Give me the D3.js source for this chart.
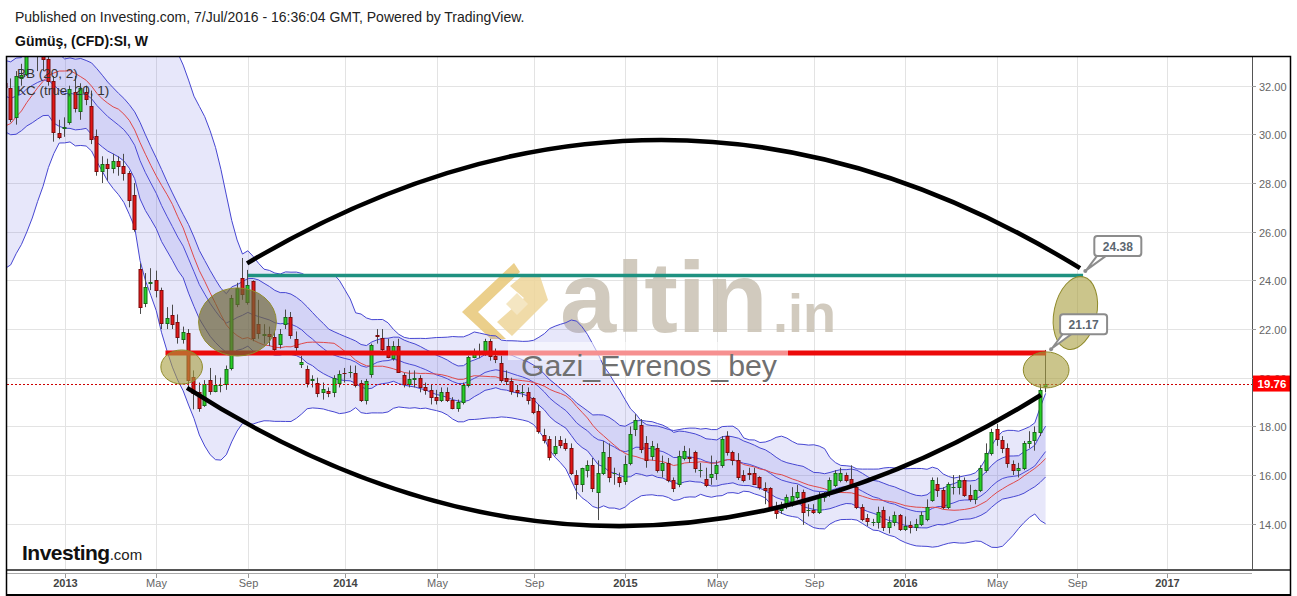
<!DOCTYPE html>
<html><head><meta charset="utf-8">
<script src="https://cdn.jsdelivr.net/npm/d3@7/dist/d3.min.js"></script>
<style>
 html,body{margin:0;padding:0;background:#fff}
 svg{display:block}
 text{font-family:"Liberation Sans",Arial,Helvetica,sans-serif}
</style></head><body>
<svg id="chart" width="1297" height="596"></svg>
<script>
// ---------------- DATA ----------------
const firstWeek = "2012-03-04"; // weekly bars (week start, Sunday)
const open = [34.5,34.1,32.9,32.3,32.5,31.8,31.6,31.7,31.2,30.5,
28.9,28.6,28.3,28.5,28.4,28.7,26.9,27.6,27.0,27.3,
27.2,27.9,27.6,27.8,28.3,30.3,31.5,33.5,34.6,34.3,
34.6,34.5,33.3,32.1,31.9,30.7,32.3,32.5,34.0,33.3,
33.3,33.1,32.2,30.05,30.28,30.5,31.75,30.95,31.75,31.15,
29.95,28.5,28.8,28.6,28.9,28.7,28.4,27.5,24.47,23.07,
23.9,24.0,23.6,22.25,22.57,22.29,21.59,21.84,20.03,19.41,
18.88,19.9,19.45,19.7,19.74,20.4,23.03,24.1,23.11,23.97,
22.2,21.76,21.8,21.67,21.4,22.2,22.5,21.6,20.55,20.36,
19.9,19.8,19.4,19.45,19.4,19.78,20.2,20.25,20.2,19.77,
19.08,20.15,21.75,21.65,21.3,20.8,21.3,20.1,19.74,19.95,
20.0,19.6,19.5,19.2,19.1,19.4,19.1,18.75,19.0,19.7,
20.85,21.05,21.1,21.5,20.9,20.6,20.0,19.85,19.5,19.42,
19.4,19.15,18.65,17.65,17.5,16.9,17.45,17.3,17.1,16.0,
15.65,16.2,16.4,15.3,16.1,16.75,16.1,15.9,15.75,16.5,
17.9,18.05,17.3,16.8,17.1,16.2,16.5,15.8,15.65,16.7,
16.75,16.95,16.2,15.85,15.9,16.1,16.4,17.6,16.95,16.6,
16.0,16.1,16.1,15.9,15.45,15.45,14.7,14.55,14.85,14.85,
15.1,15.3,14.55,14.55,14.5,15.1,15.25,15.6,15.8,16.0,
15.85,15.5,14.7,14.25,14.05,14.05,14.55,13.85,14.05,14.35,
13.78,13.95,13.86,14.0,14.2,14.97,15.65,15.4,14.7,15.5,
15.5,15.8,15.2,15.0,15.4,16.2,16.9,17.9,17.45,17.1,
16.45,16.2,16.3,17.3,17.45,17.75,19.65];
const high = [35.2,34.9,33.4,33.0,33.1,32.3,32.3,31.9,31.4,30.7,
29.1,28.9,28.8,29.0,29.1,29.2,27.6,28.0,27.5,27.8,
28.3,28.3,28.0,28.4,30.4,31.7,33.6,34.8,34.9,34.7,
35.4,34.7,33.5,32.5,32.3,32.6,32.9,34.2,34.8,33.8,
33.6,33.3,32.4,30.6,30.7,32.0,32.4,32.1,32.0,31.8,
30.2,29.1,29.0,29.2,29.1,29.2,28.5,28.0,24.7,24.3,
24.5,24.4,23.7,22.9,23.0,22.6,22.1,22.0,20.3,19.8,
19.9,20.4,20.1,20.0,20.5,23.4,23.9,24.92,24.43,24.0,
23.2,22.2,22.1,21.9,22.0,22.8,22.7,21.9,20.9,20.5,
20.1,20.0,19.8,19.6,20.1,20.3,20.4,20.5,20.5,19.9,
19.95,21.4,22.0,22.0,21.6,21.5,21.6,20.2,20.3,20.3,
20.1,19.8,19.7,19.5,19.6,19.6,19.2,19.1,19.8,20.9,
21.2,21.4,21.6,21.6,21.2,20.9,20.3,20.0,19.7,19.7,
19.6,19.2,18.9,17.9,17.6,17.6,17.6,17.5,17.3,16.2,
16.3,16.6,16.7,16.6,17.4,17.3,16.3,16.1,16.8,18.0,
18.5,18.3,17.6,17.4,17.3,16.8,16.7,15.9,17.0,17.2,
17.1,17.0,16.5,16.3,16.8,16.6,17.6,17.8,17.0,16.9,
16.2,16.3,16.3,15.95,15.7,15.5,14.9,14.9,15.2,15.5,
15.6,15.4,14.8,14.8,15.3,15.3,15.9,16.2,16.3,16.1,
16.4,15.6,14.8,14.4,14.2,14.7,14.7,14.3,14.5,14.4,
14.3,14.1,14.2,14.5,15.0,15.9,15.9,15.5,15.7,16.0,
16.0,15.9,15.6,15.4,16.4,17.3,17.9,18.1,17.6,17.3,
16.6,16.5,17.4,17.8,18.0,19.7,21.14];
const low = [33.1,32.6,31.9,31.8,31.5,31.2,31.4,30.5,30.3,28.8,
26.9,27.7,26.7,27.8,28.0,26.6,26.1,26.8,26.5,26.9,
26.9,27.0,27.2,27.2,28.2,30.1,31.3,33.2,33.9,33.6,
34.1,33.0,31.9,31.3,30.5,30.4,32.0,32.4,33.2,32.6,
32.6,32.0,29.7,29.8,29.9,30.4,30.9,30.6,31.2,29.6,
28.3,28.0,28.1,28.4,28.3,28.1,27.0,26.0,22.62,22.9,
23.6,23.3,22.0,22.0,22.0,21.4,21.4,19.6,18.7,18.6,
18.8,19.3,19.4,19.4,19.5,20.3,22.9,23.2,23.0,21.5,
21.6,21.4,21.3,21.0,21.2,22.0,21.6,21.1,20.4,19.6,
19.6,19.2,19.1,19.2,19.2,19.6,19.8,20.0,19.6,19.0,
18.9,20.0,21.4,21.0,20.8,20.7,20.2,19.6,19.6,19.6,
19.4,19.3,18.9,18.9,19.0,19.0,18.7,18.6,18.9,19.6,
20.8,20.8,20.9,20.7,20.6,19.8,19.7,19.3,19.2,19.2,
18.9,18.5,17.7,17.3,16.6,16.8,17.1,17.0,16.0,15.0,
15.3,15.9,15.3,14.15,16.0,15.7,15.6,15.5,15.6,16.4,
17.6,16.9,16.3,16.6,16.1,15.9,15.7,15.3,15.5,16.6,
16.5,16.1,15.9,15.5,15.6,15.8,16.3,16.8,16.4,15.8,
15.7,15.8,15.6,15.4,14.8,14.6,14.2,14.4,14.6,14.7,
15.0,13.95,14.3,14.4,14.4,14.9,15.1,15.5,15.7,15.7,
15.5,14.6,14.1,13.9,13.9,13.8,13.7,13.6,13.9,13.7,
13.7,13.6,13.7,13.9,14.1,14.9,15.1,14.6,14.6,15.2,
15.2,15.1,14.9,14.8,15.3,16.1,16.8,17.2,16.9,16.3,
16.0,15.9,16.2,17.1,17.0,17.6,19.4];
const close = [34.1,32.9,32.3,32.5,31.8,31.6,31.7,31.2,30.5,28.9,
28.6,28.3,28.5,28.4,28.7,26.9,27.6,27.0,27.3,27.2,
27.9,27.6,27.8,28.3,30.3,31.5,33.5,34.6,34.3,34.6,
34.5,33.3,32.1,31.95,30.65,32.4,32.45,34.0,33.3,33.3,
33.1,32.2,30.1,29.9,30.32,31.85,31.1,31.9,31.45,29.8,
28.5,28.8,28.6,28.9,28.7,28.4,27.3,26.1,22.9,23.73,
23.95,23.6,22.25,22.45,22.2,21.67,21.88,19.9,19.37,18.75,
19.74,19.45,19.7,19.72,20.36,23.27,23.68,23.44,23.81,21.63,
21.84,21.78,21.7,21.18,21.8,22.5,21.75,21.25,20.65,19.78,
19.94,19.37,19.55,19.37,19.98,20.15,20.19,20.25,19.7,19.08,
19.86,21.35,21.72,21.2,20.86,21.3,20.25,19.74,19.95,20.0,
19.6,19.5,19.2,19.1,19.4,19.1,18.75,19.0,19.7,20.85,
21.05,21.1,21.5,20.9,20.75,19.9,19.85,19.45,19.4,19.42,
19.1,18.6,17.8,17.45,16.75,17.2,17.25,17.1,16.1,15.65,
16.3,16.4,15.45,16.1,16.95,15.9,16.1,15.7,16.45,17.7,
18.25,17.05,16.6,17.2,16.2,16.5,15.8,15.45,16.8,17.0,
16.7,16.3,16.2,15.6,16.05,16.4,17.5,16.95,16.6,15.9,
15.8,16.05,15.65,15.5,15.4,14.7,14.45,14.75,15.1,15.15,
15.3,14.5,14.55,14.5,15.1,15.25,15.8,16.1,16.1,15.8,
15.6,14.7,14.2,14.1,14.05,14.5,13.85,14.05,14.35,13.78,
13.9,13.86,14.0,14.35,14.7,15.8,15.4,14.7,15.65,15.5,
15.8,15.2,15.0,15.4,16.3,16.9,17.75,17.5,17.1,16.5,
16.2,16.3,17.3,17.4,17.75,19.5,19.76];

const bbLength = 20, bbMult = 2;     // BB (20, 2)
const kcLength = 20, kcMult = 1;     // KC (true, 20, 1)
const lastPrice = 19.76;

const yTicks = [14,16,18,20,22,24,26,28,30,32];
const xTickDates = ["2013-01-06","2013-05-05","2013-09-01","2014-01-05","2014-05-04","2014-09-07","2015-01-04","2015-05-03","2015-09-06","2016-01-03","2016-05-01","2016-09-04","2017-01-01"];
const xTickLabels = ["2013","May","Sep","2014","May","Sep","2015","May","Sep","2016","May","Sep","2017"];
const timeAnchors = ["2013-01-06","2016-07-03","2016-09-04","2017-01-01"];

// drawings (data space)
const levelFrom  = ["2013-09-01","2013-05-17"];
const levelTo    = ["2016-09-12","2016-07-04"];
const levelPrice = [24.2, 21.02];
const arcStart = [["2013-08-31",24.70],["2013-06-14",19.58]];
const arcMid   = [["2015-02-25",29.77],["2014-12-20",13.90]];
const arcEnd   = [["2016-09-08",24.50],["2016-06-27",19.29]];
const ellipseFrom = [["2013-06-29",23.69],["2013-05-11",21.14],["2016-06-04",21.06],["2016-07-20",24.18]];
const ellipseTo   = [["2013-10-08",20.89],["2013-07-04",19.74],["2016-08-19",19.58],["2016-09-30",21.14]];
const calloutDates  = ["2016-09-15","2016-07-14"];
const calloutPrices = [24.38, 21.17];

// ---------------- SETUP ----------------
const parse = d3.timeParse("%Y-%m-%d");
const start = parse(firstWeek);
const dates = open.map((_, i) => d3.timeWeek.offset(start, i));
const n = open.length;

const svg = d3.select("#chart");
const P = {l:7, t:57, r:1252, b:569};
const x = d3.scaleTime().domain(timeAnchors.map(parse)).range([64.6, 1045.6, 1077, 1167]);
const y = d3.scaleLinear().domain([14, 32]).range([523.7, 85.7]);

// indicators
const sma=[], sd=[], ema=[], atr=[];
const a = 2/(kcLength+1);
for (let i=0;i<n;i++){
  const tr = i===0 ? high[i]-low[i] : Math.max(high[i]-low[i], Math.abs(high[i]-close[i-1]), Math.abs(low[i]-close[i-1]));
  ema[i] = i===0 ? close[i] : a*close[i] + (1-a)*ema[i-1];
  atr[i] = i===0 ? tr : a*tr + (1-a)*atr[i-1];
  if (i>=bbLength-1){
    const w = close.slice(i-bbLength+1, i+1);
    const m = d3.mean(w);
    sma[i] = m;
    sd[i] = Math.sqrt(d3.mean(w, v => (v-m)*(v-m)));
  }
}
const idx = d3.range(bbLength-1, n);

svg.append("rect").attr("width",1297).attr("height",596).attr("fill","#fff");

// header
svg.append("text").attr("x",15).attr("y",22).attr("font-size",14).attr("fill","#222")
  .text("Published on Investing.com, 7/Jul/2016 - 16:36:04 GMT, Powered by TradingView.");
svg.append("text").attr("x",15).attr("y",46).attr("font-size",14).attr("font-weight","bold").attr("fill","#111")
  .text("Gümüş, (CFD):SI, W");

svg.append("clipPath").attr("id","plotclip").append("rect")
  .attr("x",P.l).attr("y",P.t).attr("width",P.r-P.l).attr("height",P.b-P.t);
const g = svg.append("g").attr("clip-path","url(#plotclip)");

// grid
g.selectAll(".gx").data(xTickDates).join("line")
  .attr("x1",d=>Math.round(x(parse(d)))+0.5).attr("x2",d=>Math.round(x(parse(d)))+0.5)
  .attr("y1",P.t).attr("y2",P.b).attr("stroke","#e3e3e3");
g.selectAll(".gy").data(yTicks).join("line")
  .attr("y1",d=>Math.round(y(d))+0.5).attr("y2",d=>Math.round(y(d))+0.5)
  .attr("x1",P.l).attr("x2",P.r).attr("stroke","#e3e3e3");

// watermark
const wm = g.append("g").attr("opacity",0.85);
wm.append("path").attr("d","M514,263 L462,312 L491,339 L506,339 L478,312 L520,272 Z")
  .attr("fill","#e8c777");
wm.append("path").attr("d","M522,276 L540,276 L548,300 L512,336 L497,322 L524,298 L510,286 Z")
  .attr("fill","#eed59a");
wm.append("path").attr("d","M506,304 L517,293 L528,304 L517,315 Z").attr("fill","#f3e2b8");
wm.append("text").attr("x",560).attr("y",332).attr("font-size",101).attr("font-weight","bold")
  .attr("fill","#c9c1b3").text("altin");
wm.append("text").attr("x",773).attr("y",332).attr("font-size",54).attr("font-weight","bold")
  .attr("fill","#c9c1b3").text(".in");

// bands
const bx = i => x(dates[i]);
g.append("path").datum(idx).attr("fill","rgb(110,110,225)").attr("fill-opacity",0.17)
  .attr("d", d3.area().x(bx).y0(i=>y(sma[i]-bbMult*sd[i])).y1(i=>y(sma[i]+bbMult*sd[i])));
g.append("path").datum(idx).attr("fill","rgb(110,110,225)").attr("fill-opacity",0.17)
  .attr("d", d3.area().x(bx).y0(i=>y(ema[i]-kcMult*atr[i])).y1(i=>y(ema[i]+kcMult*atr[i])));
const lineOf = f => d3.line().x(bx).y(i=>y(f(i)));
[[i=>sma[i]+bbMult*sd[i],"#4646d2"],[i=>sma[i]-bbMult*sd[i],"#4646d2"],
 [i=>ema[i]+kcMult*atr[i],"#4646d2"],[i=>ema[i]-kcMult*atr[i],"#4646d2"],
 [i=>ema[i],"#4b4bd6"],[i=>sma[i],"#e04848"]].forEach(([f,c])=>{
  g.append("path").datum(idx).attr("fill","none").attr("stroke",c).attr("stroke-width",1)
   .attr("d", lineOf(f));
});

// candles
const cg = g.append("g");
d3.range(n).forEach(i=>{
  const cx = Math.floor(x(dates[i]));
  if (cx < -5 || cx > 1300) return;
  const up = close[i] >= open[i];
  cg.append("line").attr("x1",cx+0.5).attr("x2",cx+0.5)
    .attr("y1",y(high[i])).attr("y2",y(low[i])).attr("stroke","#4a4a4a").attr("stroke-width",1);
  const top = Math.round(y(Math.max(open[i],close[i])));
  const bot = Math.round(y(Math.min(open[i],close[i])));
  cg.append("rect").attr("x",cx-1).attr("y",top+0.5).attr("width",3).attr("height",Math.max(0.01,bot-top))
    .attr("fill", up ? "#27cf27" : "#e31616").attr("stroke", up ? "#176b17" : "#7d0c0c").attr("stroke-width",1);
});

// last price line
g.append("line").attr("x1",P.l).attr("x2",P.r)
  .attr("y1",Math.round(y(lastPrice))+0.5).attr("y2",Math.round(y(lastPrice))+0.5)
  .attr("stroke","#cc0000").attr("stroke-dasharray","2,2");

// drawings
const pt = d => [x(parse(d[0])), y(d[1])];
levelPrice.forEach((p,i)=>{
  g.append("line").attr("x1",x(parse(levelFrom[i]))).attr("x2",x(parse(levelTo[i])))
   .attr("y1",y(p)).attr("y2",y(p))
   .attr("stroke", i===0 ? "#1e9180" : "#ec0a0a").attr("stroke-width", i===0 ? 3.5 : 5);
});
// translucent text box over red line
g.append("rect").attr("x",508).attr("y",342).attr("width",280).attr("height",18)
  .attr("fill","#fff").attr("opacity",0.55);
g.append("text").attr("x",521).attr("y",376).attr("font-size",30.3).attr("fill","#707070")
  .text("Gazi_Evrenos_bey");

arcStart.forEach((s,i)=>{
  const p0 = pt(s), m = pt(arcMid[i]), p2 = pt(arcEnd[i]);
  const c = [2*m[0]-(p0[0]+p2[0])/2, 2*m[1]-(p0[1]+p2[1])/2];
  const path = d3.path(); path.moveTo(p0[0],p0[1]); path.quadraticCurveTo(c[0],c[1],p2[0],p2[1]);
  g.append("path").attr("d",path.toString()).attr("fill","none").attr("stroke","#000").attr("stroke-width",4.5);
});

const ellipseTilt = [0, 0, 0, 12];
ellipseFrom.forEach((f,i)=>{
  const a1 = pt(f), a2 = pt(ellipseTo[i]);
  const ecx = (a1[0]+a2[0])/2, ecy = (a1[1]+a2[1])/2;
  g.append("ellipse").attr("cx",ecx).attr("cy",ecy)
   .attr("rx",Math.abs(a2[0]-a1[0])/2).attr("ry",Math.abs(a2[1]-a1[1])/2)
   .attr("transform",`rotate(${ellipseTilt[i]},${ecx},${ecy})`)
   .attr("fill", i===0 ? "#6e6535" : "#a89f3e").attr("fill-opacity", i===0 ? 0.68 : 0.6)
   .attr("stroke","#8f8a2a").attr("stroke-width",1);
});

calloutDates.forEach((d,i)=>{
  const ax = x(parse(d)), ay = y(calloutPrices[i]);
  const bx0 = ax+9, by0 = ay-35, bw = 47, bh = 20;
  g.append("path").attr("d",`M${bx0+4},${by0+bh-2} L${ax+1},${ay-1} L${bx0+14},${by0+bh-2}`)
   .attr("fill","#fff").attr("stroke","#8c8c8c").attr("stroke-width",2).attr("stroke-linejoin","round");
  g.append("rect").attr("x",bx0).attr("y",by0).attr("width",bw).attr("height",bh).attr("rx",3)
   .attr("fill","#fff").attr("stroke","#8c8c8c").attr("stroke-width",2);
  g.append("text").attr("x",bx0+bw/2).attr("y",by0+14.5).attr("text-anchor","middle")
   .attr("font-size",12).attr("font-weight","bold").attr("fill","#5b6670").text(calloutPrices[i].toFixed(2));
  g.append("circle").attr("cx",ax).attr("cy",ay).attr("r",2).attr("fill","#8c8c8c");
});

// legend
svg.append("text").attr("x",17).attr("y",78).attr("font-size",13.5).attr("fill","#333").text("BB (20, 2)");
svg.append("text").attr("x",17).attr("y",95).attr("font-size",13.5).attr("fill","#333").text("KC (true, 20, 1)");

// Investing logo
const lg = svg.append("text").attr("x",22).attr("y",560);
lg.append("tspan").attr("font-size",21).attr("font-weight","bold").attr("fill","#111").attr("letter-spacing",-0.5).text("Investing");
lg.append("tspan").attr("font-size",15).attr("fill","#222").text(".com");

// axes
svg.append("line").attr("x1",P.r+0.5).attr("x2",P.r+0.5).attr("y1",P.t).attr("y2",P.b+1).attr("stroke","#555");
svg.append("line").attr("x1",P.l).attr("x2",1291).attr("y1",570).attr("y2",570).attr("stroke","#555").attr("stroke-width",2);
svg.append("line").attr("x1",P.l).attr("x2",P.r).attr("y1",573.5).attr("y2",573.5).attr("stroke","#aaa");
const xa = svg.append("g");
xTickDates.forEach((d,i)=>{
  const tx = Math.round(x(parse(d)))+0.5;
  xa.append("line").attr("x1",tx).attr("x2",tx).attr("y1",574).attr("y2",578).attr("stroke","#999");
  const isYear = /^\d{4}$/.test(xTickLabels[i]);
  xa.append("text").attr("x",tx).attr("y",587).attr("text-anchor","middle").attr("font-size",11)
    .attr("font-weight", isYear ? "bold" : "normal").attr("fill", isYear ? "#444" : "#666").text(xTickLabels[i]);
});
const ya = svg.append("g");
yTicks.forEach(v=>{
  const ty = Math.round(y(v))+0.5;
  ya.append("line").attr("x1",P.r).attr("x2",P.r+4).attr("y1",ty).attr("y2",ty).attr("stroke","#999");
  ya.append("text").attr("x",1259).attr("y",ty+4).attr("font-size",11).attr("fill","#666").text(d3.format(".2f")(v));
});
// last price label
const ly = y(lastPrice);
svg.append("rect").attr("x",1253).attr("y",ly-8).attr("width",38).attr("height",16).attr("fill","#ff0000");
svg.append("text").attr("x",1272).attr("y",ly+4).attr("text-anchor","middle").attr("font-size",11.5)
  .attr("font-weight","bold").attr("fill","#fff").text(lastPrice.toFixed(2));

// frame
svg.append("path").attr("d","M6.5,596 V56.5 H1290.5 V596").attr("fill","none").attr("stroke","#000").attr("stroke-width",1.5);
svg.append("line").attr("x1",6).attr("x2",1291).attr("y1",595).attr("y2",595).attr("stroke","#000").attr("stroke-width",2);
</script>
</body></html>
